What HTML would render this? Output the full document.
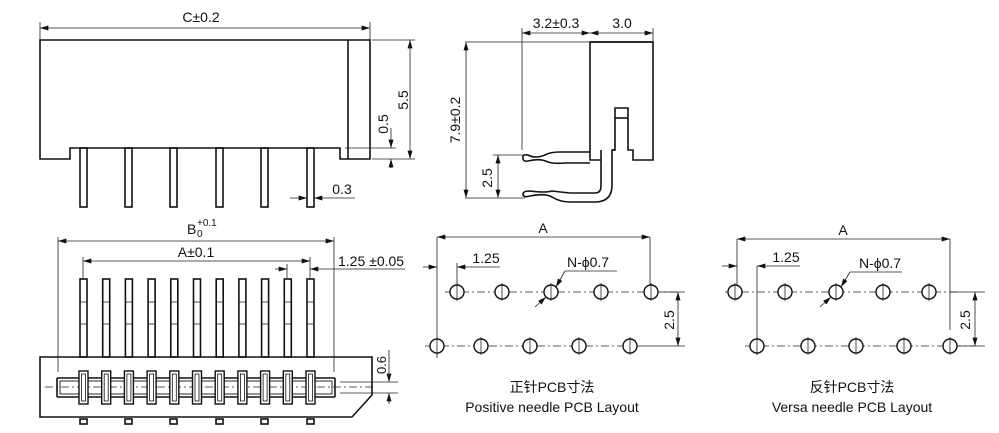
<!DOCTYPE html>
<html><head><meta charset="utf-8"><style>
html,body{margin:0;padding:0;background:#fff;}
svg{display:block;}
text{font-family:"Liberation Sans","Noto Sans CJK SC",sans-serif;fill:#111;}
.b{fill:none;stroke:#111;stroke-width:1.6;}
.d{fill:none;stroke:#222;stroke-width:0.8;}
.c{fill:none;stroke:#222;stroke-width:0.8;stroke-dasharray:8 3 2 3;}
.h{fill:#fff;stroke:#111;stroke-width:1.4;}
</style></head><body>
<svg width="999" height="433" viewBox="0 0 999 433" xmlns="http://www.w3.org/2000/svg">
<defs>
<marker id="a" viewBox="0 0 10 6" refX="10" refY="3" markerWidth="10" markerHeight="5" markerUnits="userSpaceOnUse" orient="auto-start-reverse"><path d="M0,0 L10,3 L0,6 z" fill="#111"/></marker>
</defs>

<!-- TOP LEFT -->
<path class="b" d="M40,40 H370 V159 H340 V148 H70 V159 H40 Z"/>
<line class="b" x1="348" y1="40" x2="348" y2="159"/>
<g class="b">
<rect x="80" y="148" width="7" height="59"/><rect x="125" y="148" width="7" height="59"/>
<rect x="170" y="148" width="7" height="59"/><rect x="216" y="148" width="7" height="59"/>
<rect x="261" y="148" width="7" height="59"/><rect x="307" y="148" width="7" height="59"/>
</g>
<line class="d" x1="40" y1="22" x2="40" y2="40"/><line class="d" x1="370" y1="22" x2="370" y2="40"/>
<line class="d" x1="40" y1="28" x2="370" y2="28" marker-start="url(#a)" marker-end="url(#a)"/>
<text x="201" y="22" font-size="14" text-anchor="middle">C±0.2</text>
<line class="d" x1="372" y1="40" x2="415" y2="40"/><line class="d" x1="372" y1="159" x2="415" y2="159"/>
<line class="d" x1="410" y1="40" x2="410" y2="159" marker-start="url(#a)" marker-end="url(#a)"/>
<text transform="translate(408,100) rotate(-90)" font-size="14" text-anchor="middle">5.5</text>
<line class="d" x1="345" y1="148" x2="396" y2="148"/>
<line class="d" x1="391" y1="128" x2="391" y2="148" marker-end="url(#a)"/>
<line class="d" x1="391" y1="168" x2="391" y2="159" marker-end="url(#a)"/>
<text transform="translate(388,124) rotate(-90)" font-size="14" text-anchor="middle">0.5</text>
<line class="d" x1="290" y1="198" x2="307" y2="198" marker-end="url(#a)"/>
<line class="d" x1="355" y1="198" x2="314" y2="198" marker-end="url(#a)"/>
<text x="342" y="194" font-size="14" text-anchor="middle">0.3</text>

<!-- BOTTOM LEFT -->
<path class="b" d="M40,357 H372 V395 L352,417 H40 Z"/>
<rect class="b" x="57" y="378" width="278" height="19" rx="1"/>
<rect x="60" y="381" width="272" height="13" fill="none" stroke="#111" stroke-width="0.9"/>
<line class="c" x1="45" y1="387" x2="372" y2="387"/>
<g id="pins">
<rect class="b" x="80" y="279" width="7" height="78"/>
<line class="d" x1="80" y1="302" x2="87" y2="302"/><line class="d" x1="80" y1="324" x2="87" y2="324"/>
<rect x="79" y="371" width="9" height="33" fill="#fff" stroke="#111" stroke-width="1.4"/>
<rect x="81.5" y="374" width="4" height="27" fill="none" stroke="#111" stroke-width="0.8"/>
</g>
<use href="#pins" x="22.7"/><use href="#pins" x="45.4"/><use href="#pins" x="68.1"/><use href="#pins" x="90.8"/>
<use href="#pins" x="113.5"/><use href="#pins" x="136.2"/><use href="#pins" x="158.9"/><use href="#pins" x="181.6"/>
<use href="#pins" x="204.3"/><use href="#pins" x="227"/>
<g class="b">
<rect x="80" y="419" width="7" height="5"/><rect x="125" y="419" width="7" height="5"/>
<rect x="170" y="419" width="7" height="5"/><rect x="216" y="419" width="7" height="5"/>
<rect x="261" y="419" width="7" height="5"/><rect x="307" y="419" width="7" height="5"/>
</g>
<line class="d" x1="58" y1="237" x2="58" y2="372"/><line class="d" x1="334" y1="237" x2="334" y2="372"/>
<line class="d" x1="58" y1="241" x2="334" y2="241" marker-start="url(#a)" marker-end="url(#a)"/>
<text x="187" y="234" font-size="14">B</text>
<text x="197" y="226" font-size="10">+0.1</text>
<text x="197" y="237" font-size="10">0</text>
<line class="d" x1="83" y1="257" x2="83" y2="279"/><line class="d" x1="310" y1="257" x2="310" y2="279"/>
<line class="d" x1="83" y1="261" x2="310" y2="261" marker-start="url(#a)" marker-end="url(#a)"/>
<text x="196" y="257" font-size="14" text-anchor="middle">A±0.1</text>
<line class="d" x1="287" y1="264" x2="287" y2="279"/>
<line class="d" x1="275" y1="269" x2="287" y2="269" marker-end="url(#a)"/>
<line class="d" x1="405" y1="269" x2="310" y2="269" marker-end="url(#a)"/>
<text x="338" y="266" font-size="14">1.25 ±0.05</text>
<line class="d" x1="340" y1="382" x2="398" y2="382"/><line class="d" x1="340" y1="393" x2="398" y2="393"/>
<line class="d" x1="389" y1="350" x2="389" y2="382" marker-end="url(#a)"/>
<line class="d" x1="389" y1="404" x2="389" y2="393" marker-end="url(#a)"/>
<text transform="translate(386,365) rotate(-90)" font-size="13" text-anchor="middle">0.6</text>

<!-- TOP MIDDLE -->
<path class="b" d="M590,42 H653 V160 H633 V150 H628 V108 H615 V150 H612 V185 Q612,202 595,202 H570 Q560,202 552,197 Q545,193 530,196 Q523,198 523,194 Q523,191 530,191 Q545,193 552,191 Q560,192 570,193 H595 Q601,193 601,186 V150 V160 H590 Z"/>
<line class="b" x1="653" y1="42" x2="590" y2="42" stroke-width="2"/>
<line class="b" x1="615" y1="118" x2="628" y2="118"/>
<line class="b" x1="612" y1="150" x2="615" y2="150"/>
<path class="b" d="M590,152 H560 Q550,152 545,155 Q535,159 528,155 Q522,154 523,158 Q523,162 528,161 Q540,158 548,162 Q555,164 565,163 H590"/>
<line class="d" x1="522" y1="28" x2="522" y2="150"/><line class="d" x1="653" y1="28" x2="653" y2="42"/>
<line class="d" x1="522" y1="33" x2="590" y2="33" marker-start="url(#a)" marker-end="url(#a)"/>
<line class="d" x1="590" y1="33" x2="653" y2="33" marker-start="url(#a)" marker-end="url(#a)"/>
<text x="556" y="28" font-size="14" text-anchor="middle">3.2±0.3</text>
<text x="622" y="28" font-size="14" text-anchor="middle">3.0</text>
<line class="d" x1="465" y1="42" x2="590" y2="42"/><line class="d" x1="465" y1="198" x2="525" y2="198"/>
<line class="d" x1="466" y1="42" x2="466" y2="198" marker-start="url(#a)" marker-end="url(#a)"/>
<text transform="translate(460,120) rotate(-90)" font-size="14" text-anchor="middle">7.9±0.2</text>
<line class="d" x1="493" y1="155" x2="525" y2="155"/>
<line class="d" x1="498" y1="155" x2="498" y2="198" marker-start="url(#a)" marker-end="url(#a)"/>
<text transform="translate(492,178) rotate(-90)" font-size="14" text-anchor="middle">2.5</text>

<!-- BOTTOM MIDDLE -->
<line class="c" x1="445" y1="292" x2="680" y2="292"/>
<line class="c" x1="425" y1="346" x2="640" y2="346"/>
<line class="d" x1="437" y1="237" x2="437" y2="358"/><line class="d" x1="650" y1="237" x2="650" y2="300"/>
<line class="d" x1="437" y1="237" x2="650" y2="237" marker-start="url(#a)" marker-end="url(#a)"/>
<text x="543" y="233" font-size="14" text-anchor="middle">A</text>
<line class="d" x1="457" y1="263" x2="457" y2="300"/>
<line class="d" x1="423" y1="267" x2="437" y2="267" marker-end="url(#a)"/>
<line class="d" x1="500" y1="267" x2="457" y2="267" marker-end="url(#a)"/>
<text x="486" y="263" font-size="14" text-anchor="middle">1.25</text>
<g class="h">
<circle cx="457" cy="292" r="7"/><circle cx="502" cy="292" r="7"/><circle cx="551" cy="292" r="7"/><circle cx="601" cy="292" r="7"/><circle cx="651" cy="292" r="7"/>
<circle cx="437" cy="346" r="7"/><circle cx="481" cy="346" r="7"/><circle cx="530" cy="346" r="7"/><circle cx="579" cy="346" r="7"/><circle cx="630" cy="346" r="7"/>
</g>
<g class="d">
<line x1="457" y1="283" x2="457" y2="301"/><line x1="502" y1="283" x2="502" y2="301"/><line x1="551" y1="283" x2="551" y2="301"/><line x1="601" y1="283" x2="601" y2="301"/><line x1="651" y1="283" x2="651" y2="301"/>
<line x1="437" y1="337" x2="437" y2="355"/><line x1="481" y1="337" x2="481" y2="355"/><line x1="530" y1="337" x2="530" y2="355"/><line x1="579" y1="337" x2="579" y2="355"/><line x1="630" y1="337" x2="630" y2="355"/>
</g>
<line class="d" x1="535" y1="307" x2="546" y2="297" marker-end="url(#a)"/>
<line class="d" x1="565" y1="271" x2="556" y2="287" marker-end="url(#a)"/>
<line class="d" x1="565" y1="271" x2="617" y2="271"/>
<text x="588" y="267" font-size="14" text-anchor="middle">N-ϕ0.7</text>
<line class="d" x1="660" y1="292" x2="685" y2="292"/><line class="d" x1="640" y1="346" x2="685" y2="346"/>
<line class="d" x1="678" y1="292" x2="678" y2="346" marker-start="url(#a)" marker-end="url(#a)"/>
<text transform="translate(674,320) rotate(-90)" font-size="14" text-anchor="middle">2.5</text>
<text x="552" y="392" font-size="14" text-anchor="middle">正针PCB寸法</text>
<text x="552" y="412" font-size="14" text-anchor="middle">Positive needle PCB Layout</text>

<!-- BOTTOM RIGHT -->
<line class="c" x1="725" y1="292" x2="960" y2="292"/>
<line class="c" x1="745" y1="346" x2="975" y2="346"/>
<line class="d" x1="737" y1="239" x2="737" y2="300"/><line class="d" x1="950" y1="239" x2="950" y2="330"/>
<line class="d" x1="737" y1="239" x2="950" y2="239" marker-start="url(#a)" marker-end="url(#a)"/>
<text x="843" y="235" font-size="14" text-anchor="middle">A</text>
<line class="d" x1="757" y1="266" x2="757" y2="355"/>
<line class="d" x1="722" y1="266" x2="737" y2="266" marker-end="url(#a)"/>
<line class="d" x1="800" y1="266" x2="757" y2="266" marker-end="url(#a)"/>
<text x="786" y="262" font-size="14" text-anchor="middle">1.25</text>
<g class="h">
<circle cx="735" cy="292" r="7"/><circle cx="785" cy="292" r="7"/><circle cx="836" cy="292" r="7"/><circle cx="883" cy="292" r="7"/><circle cx="929" cy="292" r="7"/>
<circle cx="757" cy="346" r="7"/><circle cx="808" cy="346" r="7"/><circle cx="856" cy="346" r="7"/><circle cx="904" cy="346" r="7"/><circle cx="950" cy="346" r="7"/>
</g>
<g class="d">
<line x1="735" y1="283" x2="735" y2="301"/><line x1="785" y1="283" x2="785" y2="301"/><line x1="836" y1="283" x2="836" y2="301"/><line x1="883" y1="283" x2="883" y2="301"/><line x1="929" y1="283" x2="929" y2="301"/>
<line x1="757" y1="337" x2="757" y2="355"/><line x1="808" y1="337" x2="808" y2="355"/><line x1="856" y1="337" x2="856" y2="355"/><line x1="904" y1="337" x2="904" y2="355"/><line x1="950" y1="337" x2="950" y2="355"/>
</g>
<line class="d" x1="820" y1="307" x2="831" y2="297" marker-end="url(#a)"/>
<line class="d" x1="850" y1="272" x2="841" y2="287" marker-end="url(#a)"/>
<line class="d" x1="850" y1="272" x2="902" y2="272"/>
<text x="880" y="268" font-size="14" text-anchor="middle">N-ϕ0.7</text>
<line class="d" x1="950" y1="292" x2="985" y2="292"/><line class="d" x1="958" y1="346" x2="985" y2="346"/>
<line class="d" x1="975" y1="292" x2="975" y2="346" marker-start="url(#a)" marker-end="url(#a)"/>
<text transform="translate(970,320) rotate(-90)" font-size="14" text-anchor="middle">2.5</text>
<text x="852" y="392" font-size="14" text-anchor="middle">反针PCB寸法</text>
<text x="852" y="412" font-size="14" text-anchor="middle">Versa needle PCB Layout</text>
</svg>
</body></html>
